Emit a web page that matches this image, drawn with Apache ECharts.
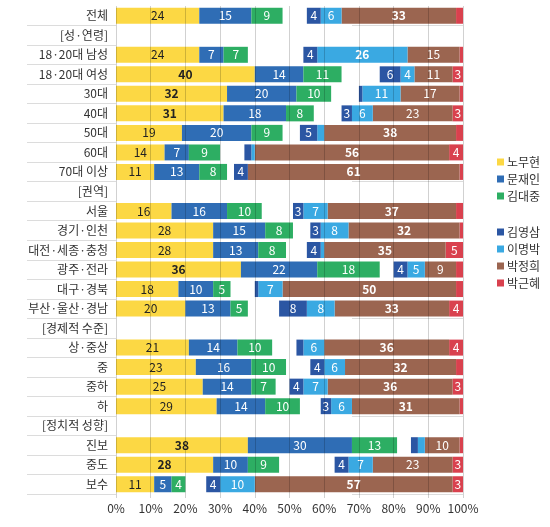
<!DOCTYPE html>
<html><head><meta charset="utf-8">
<script src="https://cdn.jsdelivr.net/npm/echarts@6/dist/echarts.min.js"></script>
<style>html,body{margin:0;padding:0;background:#fff}#c{width:550px;height:527px}</style>
</head><body><div id="c"></div>
<script>
const categories = ['전체','[성·연령]','18·20대 남성','18·20대 여성','30대','40대','50대','60대','70대 이상','[권역]','서울','경기·인천','대전·세종·충청','광주·전라','대구·경북','부산·울산·경남','[경제적 수준]','상·중상','중','중하','하','[정치적 성향]','진보','중도','보수'];
const N = null;
const roh   = [24,N,24,40,32,31,19,14,11,N,16,28,28,36,18,20,N,21,23,25,29,N,38,28,11];
const moon  = [15,N,7,14,20,18,20,7,13,N,16,15,13,22,10,13,N,14,16,14,14,N,30,10,5];
const kimdj = [9,N,7,11,10,8,9,9,8,N,10,8,8,18,5,5,N,10,10,7,10,N,13,9,4];
const kimys = [4,N,4,6,1,3,5,2,4,N,3,3,4,4,1,8,N,2,4,4,3,N,2,4,4];
const leemb = [6,N,26,4,11,6,2,1,0,N,7,8,1,5,7,8,N,6,6,7,6,N,2,7,10];
const parkch= [33,N,15,11,17,23,38,56,61,N,37,32,35,9,50,33,N,36,32,36,31,N,10,23,57];
const parkgh= [2,N,1,3,1,3,2,4,1,N,2,1,5,2,2,4,N,4,2,3,1,N,1,3,3];
const xTicks = [0,10,20,30,40,50,60,70,80,90,100];
const groupStarts = [1,9,16,21];

const FONT = 'Noto Sans CJK KR';
const all = [roh,moon,kimdj,kimys,leemb,parkch,parkgh];
const rowMax = categories.map((_, i) => Math.max(...all.map(a => a[i] == null ? -1 : a[i])));

function mk(name, arr, color, axisIdx, stack, textColor) {
  return {
    name, type: 'bar', stack, xAxisIndex: axisIdx, yAxisIndex: 0,
    barWidth: 16, barGap: '-100%',
    itemStyle: { color },
    label: {
      show: true, position: 'inside', color: textColor, fontSize: 12, fontFamily: FONT,
      formatter: p => (p.value != null && p.value >= 3) ? String(p.value) : ''
    },
    data: arr.map((v, i) => v == null ? null : ({
      value: v, label: { fontWeight: (v === rowMax[i]) ? 'bold' : 'normal' }
    }))
  };
}

const chart = echarts.init(document.getElementById('c'), null, { renderer: 'canvas' });
chart.setOption({
  animation: false,
  textStyle: { fontFamily: FONT },
  grid: { left: 116, right: 87, top: 6, bottom: 33 },
  legend: [
    { data: ['노무현','문재인','김대중'], orient: 'vertical', left: 492, top: 151,
      itemWidth: 7, itemHeight: 7, itemGap: 5, icon: 'rect',
      textStyle: { fontSize: 12, color: '#333', fontFamily: FONT, padding: [0,0,0,-2] } },
    { data: ['김영삼','이명박','박정희','박근혜'], orient: 'vertical', left: 492, top: 221,
      itemWidth: 7, itemHeight: 7, itemGap: 5, icon: 'rect',
      textStyle: { fontSize: 12, color: '#333', fontFamily: FONT, padding: [0,0,0,-2] } }
  ],
  xAxis: [
    { type: 'value', min: 0, max: 100, interval: 10, z: 5,
      axisLine: { show: false },
      axisTick: { show: true, length: 4, lineStyle: { color: 'rgba(0,0,0,0.18)' } },
      splitLine: { show: true, lineStyle: { color: 'rgba(0,0,0,0.18)', width: 1 } },
      axisLabel: { color: '#333', fontSize: 12, fontFamily: FONT, margin: 8,
        formatter: v => xTicks.includes(v) ? v + '%' : '' } },
    { type: 'value', min: 0, max: 100, inverse: true, show: false }
  ],
  yAxis: [
    { type: 'category', data: categories, inverse: true,
      axisLine: { show: false },
      axisTick: { show: true, length: 89, interval: (i) => i > 0, lineStyle: { color: '#dcdcdc' } },
      axisLabel: { color: '#333', fontSize: 12, fontFamily: FONT, margin: 8 } },
    { type: 'category', data: categories, inverse: true, position: 'left',
      axisLine: { show: false }, axisLabel: { show: false },
      axisTick: { show: true, length: 111, interval: (i) => groupStarts.includes(i), lineStyle: { color: '#dcdcdc' } } }
  ],
  series: [
    mk('노무현', roh, '#FCD844', 0, 'L', '#222'),
    mk('문재인', moon, '#2F6DB5', 0, 'L', '#fff'),
    mk('김대중', kimdj, '#2DAE63', 0, 'L', '#fff'),
    mk('박근혜', parkgh, '#D9414E', 1, 'R', '#fff'),
    mk('박정희', parkch, '#9B6550', 1, 'R', '#fff'),
    mk('이명박', leemb, '#3AA9E2', 1, 'R', '#fff'),
    mk('김영삼', kimys, '#2B56A3', 1, 'R', '#fff')
  ]
});
</script></body></html>
